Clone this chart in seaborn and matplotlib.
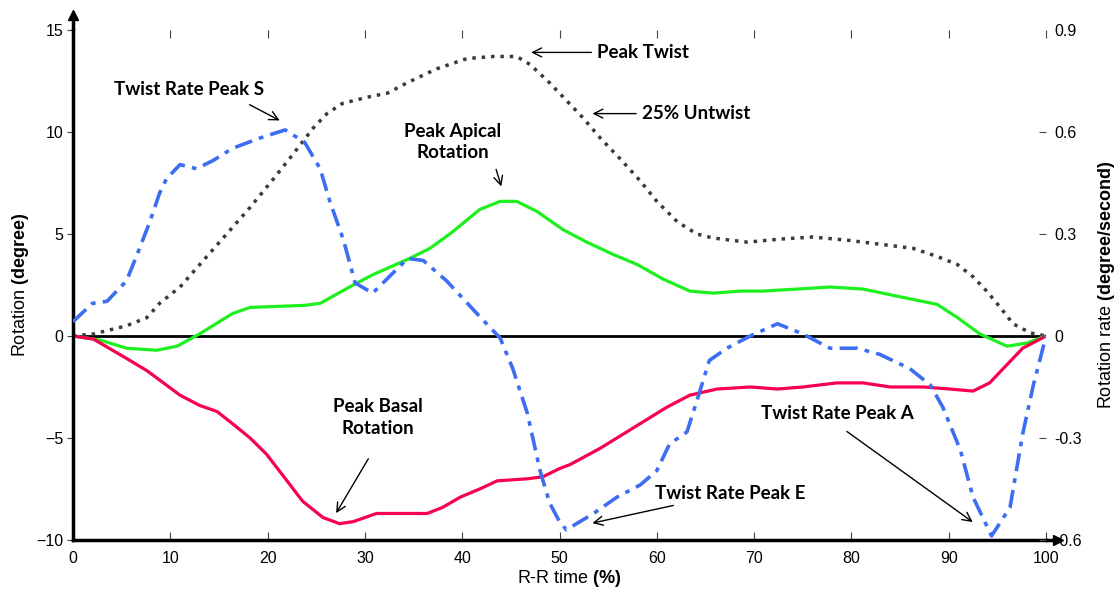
import matplotlib
matplotlib.use("Agg")
import matplotlib.pyplot as plt
import seaborn as sns

# R-R time (%) samples and curves
twist_x = [0, 2.1, 5.5, 7.6, 8.9, 11, 13.4, 15.8, 18.2, 20.6, 22.6, 24.7, 26.1, 27.7, 30.2, 32.3,
           34.3, 37.4, 40.5, 43.2, 45.6, 47, 49, 50.8, 52.4, 54.2, 56.2, 58.3, 60, 62.1, 64.1,
           65.8, 69.3, 72.7, 76, 79.5, 82.9, 86.3, 88.8, 90.9, 92.5, 93.9, 95.3, 96.6, 98.4, 100]
twist_y = [0, 0.1, 0.5, 0.9, 1.6, 2.4, 3.7, 5.0, 6.3, 7.7, 8.9, 10.2, 10.9, 11.4, 11.7, 11.9,
           12.4, 13.1, 13.6, 13.7, 13.7, 13.3, 12.4, 11.5, 10.7, 9.7, 8.7, 7.6, 6.6, 5.6, 5.0,
           4.8, 4.6, 4.75, 4.85, 4.7, 4.5, 4.3, 3.9, 3.5, 2.9, 2.2, 1.4, 0.6, 0.15, 0]

apical_x = [0, 2.8, 5.5, 8.6, 10.7, 13, 16.4, 18.2, 23.8, 25.4, 28.8, 30.8, 34.6, 36.7, 39, 41.8,
            43.9, 45.6, 47.7, 50.4, 52.8, 55.5, 58, 60.6, 63.4, 65.8, 68.6, 70.9, 74.4, 77.8,
            81.2, 84.7, 88.8, 90.9, 93.2, 96, 98, 100]
apical_y = [0, -0.2, -0.6, -0.7, -0.5, 0.1, 1.1, 1.4, 1.5, 1.6, 2.5, 3.0, 3.8, 4.3, 5.1, 6.2,
            6.6, 6.6, 6.1, 5.2, 4.6, 4.0, 3.5, 2.8, 2.2, 2.1, 2.2, 2.2, 2.3, 2.4,
            2.3, 1.95, 1.55, 0.9, 0.1, -0.5, -0.35, 0]

basal_x = [0, 2.1, 5.5, 7.6, 11, 13, 14.8, 16.4, 18.2, 19.9, 22, 23.6, 25.7, 27.4, 28.8, 31.2,
           32.9, 36.4, 38, 39.8, 41.8, 43.6, 46.7, 48.3, 50, 51.1, 54.2, 57.6, 61, 63.4, 66.2,
           69.6, 72.4, 75, 78.5, 81.2, 84, 87.4, 90.1, 92.5, 94.2, 96, 97.6, 100]
basal_y = [0, -0.15, -1.1, -1.7, -2.9, -3.4, -3.7, -4.3, -5.0, -5.8, -7.1, -8.1, -8.9, -9.2, -9.1,
           -8.7, -8.7, -8.7, -8.4, -7.9, -7.5, -7.1, -7.0, -6.9, -6.5, -6.3, -5.5, -4.5, -3.5,
           -2.9, -2.6, -2.5, -2.6, -2.5, -2.3, -2.3, -2.5, -2.5, -2.6, -2.7, -2.3, -1.4, -0.6, 0]

# twist rate, degree/second (right axis)
rate_x = [0, 2, 3.5, 5.5, 6.6, 7.9, 8.9, 9.6, 11, 12.7, 14.4, 16.4, 19.2, 21.8, 23.8, 25.4, 26.4,
          27.8, 29, 30.8, 34.4, 36, 38.4, 42.1, 43.9, 45.2, 46.7, 48, 49, 50, 50.7, 53.5, 55.9,
          58.3, 60, 61.3, 63.1, 64.1, 65.4, 67.2, 69.6, 72.4, 75, 77.8, 80.6, 82.9, 86, 88.1,
          89.4, 91.2, 92.5, 94.4, 96.3, 97.6, 98.7, 100]
rate_y = [0.042, 0.096, 0.102, 0.162, 0.24, 0.336, 0.42, 0.462, 0.504, 0.492, 0.516, 0.552, 0.582,
          0.606, 0.57, 0.492, 0.396, 0.282, 0.156, 0.126, 0.228, 0.222, 0.162, 0.048, -0.006,
          -0.096, -0.228, -0.396, -0.492, -0.546, -0.57, -0.522, -0.474, -0.438, -0.396, -0.318,
          -0.282, -0.192, -0.072, -0.036, 0.0, 0.036, 0.006, -0.036, -0.036, -0.054, -0.096,
          -0.144, -0.21, -0.336, -0.474, -0.588, -0.504, -0.288, -0.144, 0.0]

left_ticks = [-10, -5, 0, 5, 10, 15]
right_ticks = [-0.6, -0.3, 0, 0.3, 0.6, 0.9]
right_labels = ["-0.6", "-0.3", "0", "0.3", "0.6", "0.9"]

sns.set_style("white")
plt.rcParams['font.family'] = ['Liberation Sans', 'DejaVu Sans']
plt.rcParams['mathtext.fontset'] = 'custom'
plt.rcParams['mathtext.rm'] = 'Liberation Sans'
plt.rcParams['mathtext.bf'] = 'Liberation Sans:bold'
plt.rcParams['text.color'] = 'black'
plt.rcParams['axes.labelcolor'] = 'black'

fig = plt.figure(figsize=(11.19, 5.91), dpi=100)
ax = fig.add_axes([0.0652, 0.0863, 0.8696, 0.8630])
ax2 = ax.twinx()

ax.axhline(0, color='black', lw=2, zorder=1)
sns.lineplot(x=twist_x, y=twist_y, ax=ax, color='#3a3a3a', lw=2.5, linestyle=(0, (1, 1.7)))
sns.lineplot(x=apical_x, y=apical_y, ax=ax, color='#1ef01e', lw=2.3)
sns.lineplot(x=basal_x, y=basal_y, ax=ax, color='#f7004f', lw=2.3)
sns.lineplot(x=rate_x, y=rate_y, ax=ax2, color='#3d6df2', lw=2.6,
             linestyle=(0, (5, 2, 1.3, 2)))

ax.set_xlim(0, 100)
ax.set_ylim(-10, 15)
ax2.set_ylim(-0.6, 0.9)
ax.set_xticks(range(0, 101, 10))
ax.set_yticks(left_ticks)
ax2.set_yticks(right_ticks)
ax2.set_yticklabels(right_labels)

for s in ['top', 'right']:
    ax.spines[s].set_visible(False)
for s in ['top', 'right', 'left', 'bottom']:
    ax2.spines[s].set_visible(False)
ax.spines['left'].set_linewidth(2.5)
ax.spines['bottom'].set_linewidth(2.5)
ax.spines['left'].set_color('black')
ax.spines['bottom'].set_color('black')

ax.tick_params(axis='x', direction='in', top=True, bottom=True, length=6, width=0.8,
               color='#444444', labelcolor='black', labelsize=11.5, pad=8)
ax.tick_params(axis='y', direction='out', left=True, length=4, width=0.8,
               color='#444444', labelcolor='black', labelsize=11.5, pad=3)
ax2.tick_params(axis='y', direction='in', right=True, length=5, width=0.8,
                color='#444444', labelcolor='black', labelsize=11.5, pad=6)
# no tick mark beside 0 and 0.9 on the right
ax2.yaxis.get_major_ticks()[-1].tick2line.set_visible(False)
ax2.yaxis.get_major_ticks()[2].tick2line.set_visible(False)

# axis arrows
ax.plot([0, 0], [15, 15.6], color='black', lw=2.5, clip_on=False)
ax.plot([0], [15.75], marker='^', color='black', ms=7, clip_on=False)
ax.plot([100, 101.0], [-10, -10], color='black', lw=2.5, clip_on=False)
ax.plot([101.2], [-10], marker='>', color='black', ms=7, clip_on=False)

ax.set_xlabel(r'R-R time $\mathbf{(\%)}$', fontsize=13)
ax.xaxis.set_label_coords(0.51, -0.054)
ax.set_ylabel(r'Rotation $\mathbf{(degree)}$', fontsize=13, labelpad=4)
ax2.set_ylabel(r'Rotation rate $\mathbf{(degree/second)}$', fontsize=13, labelpad=10)

note = dict(fontsize=13.5, fontweight='bold', family=['Lato', 'DejaVu Sans'])
arrow = dict(arrowstyle='->', color='black', lw=1, mutation_scale=16)

ax.annotate('Peak Twist', xy=(46.8, 13.9), xytext=(53.9, 13.9), ha='left', va='center',
            arrowprops=arrow, **note)
ax.annotate('25% Untwist', xy=(53.1, 10.9), xytext=(58.5, 10.9), ha='left', va='center',
            arrowprops=arrow, **note)
ax.text(39, 9.5, 'Peak Apical\nRotation', ha='center', va='center', linespacing=1.3, **note)
ax.annotate('', xy=(44.1, 7.2), xytext=(43.4, 8.3), arrowprops=arrow)
ax.text(11.9, 12.1, 'Twist Rate Peak S', ha='center', va='center', **note)
ax.annotate('', xy=(21.5, 10.5), xytext=(17.9, 11.4), arrowprops=arrow)
ax.text(31.3, -4.0, 'Peak Basal\nRotation', ha='center', va='center', linespacing=1.3, **note)
ax.annotate('', xy=(26.9, -8.8), xytext=(30.5, -5.9), arrowprops=arrow)
ax.annotate('Twist Rate Peak E', xy=(53.1, -9.2), xytext=(59.8, -7.7), ha='left', va='center',
            arrowprops=arrow, **note)
ax.text(78.6, -3.8, 'Twist Rate Peak A', ha='center', va='center', **note)
ax.annotate('', xy=(92.7, -9.2), xytext=(79.3, -4.6), arrowprops=arrow)

fig.savefig('out.png', dpi=100)
